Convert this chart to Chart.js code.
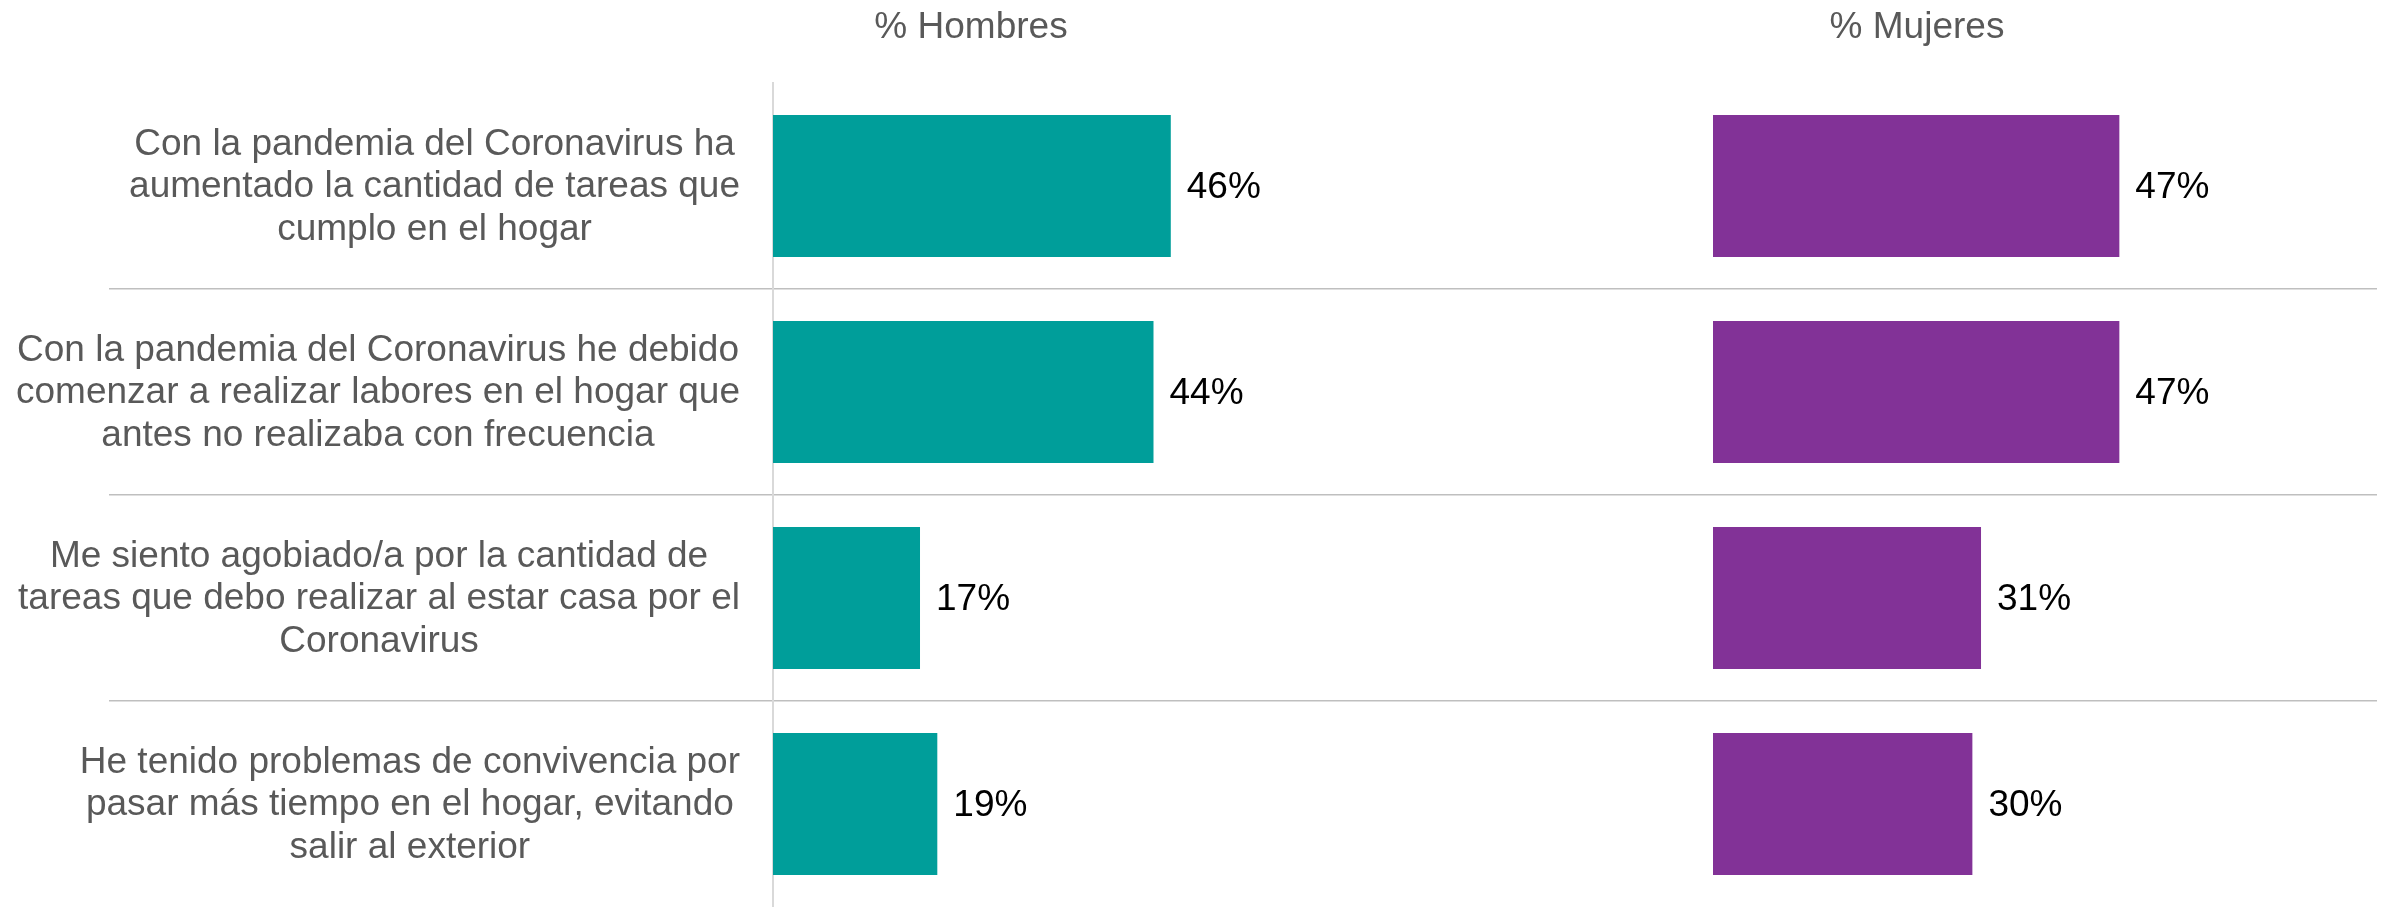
<!DOCTYPE html>
<html><head><meta charset="utf-8">
<script src="https://cdn.jsdelivr.net/npm/chart.js@4.4.0/dist/chart.umd.min.js"></script>
<style>html,body{margin:0;padding:0;background:#fff;overflow:hidden;}</style>
</head><body>
<canvas id="c" width="2385" height="907" style="display:block;width:2385px;height:907px"></canvas>
<script>
// ---- data ----
const categories = [
  ["Con la pandemia del Coronavirus ha", "aumentado la cantidad de tareas que", "cumplo en el hogar"],
  ["Con la pandemia del Coronavirus he debido", "comenzar a realizar labores en el hogar que", "antes no realizaba con frecuencia"],
  ["Me siento agobiado/a por la cantidad de", "tareas que debo realizar al estar casa por el", "Coronavirus"],
  ["He tenido problemas de convivencia por", "pasar más tiempo en el hogar, evitando", "salir al exterior"]
];
const seriesNames = ["% Hombres", "% Mujeres"];
const hombres = [46, 44, 17, 19];
const mujeres = [47, 47, 31, 30];

// ---- style ----
const FONT = '"Liberation Sans", Arial, sans-serif';
const GREY_TEXT = '#595959';
const SEP = '#bfbfbf';
const NONE = 'rgba(0,0,0,0)';

const customDraw = {
  id: 'customDraw',
  afterDatasetsDraw(chart) {
    const ctx = chart.ctx;
    ctx.save();
    // value labels
    ctx.font = '37px ' + FONT;
    ctx.fillStyle = '#000000';
    ctx.textBaseline = 'middle';
    ctx.textAlign = 'left';
    chart.data.datasets.forEach((ds, i) => {
      chart.getDatasetMeta(i).data.forEach((bar, j) => {
        ctx.fillText(ds.data[j] + '%', bar.x + 16, bar.y + 2);
      });
    });
    // category labels (right-aligned block, centred lines)
    const y = chart.scales.y;
    ctx.fillStyle = GREY_TEXT;
    ctx.textAlign = 'center';
    const lh = 42.5;
    categories.forEach((lines, j) => {
      const cy = y.getPixelForValue(j);
      let widest = 0;
      lines.forEach(l => { widest = Math.max(widest, ctx.measureText(l).width); });
      const cx = y.right - 33 - widest / 2;
      lines.forEach((l, k) => {
        ctx.fillText(l, cx, cy + (k - (lines.length - 1) / 2) * lh + 1);
      });
    });
    // panel headers
    ctx.fillText(seriesNames[0], chart.scales.x1.left + 198, 28);
    ctx.fillText(seriesNames[1], chart.scales.x2.left + 204, 28);
    ctx.restore();
  }
};

const sepColor = c => (c.index === undefined || c.index === 0 || c.index >= categories.length) ? NONE : SEP;

new Chart(document.getElementById('c'), {
  type: 'bar',
  data: {
    labels: categories,
    datasets: [
      { label: seriesNames[0], data: hombres, xAxisID: 'x1', backgroundColor: '#009E9A' },
      { label: seriesNames[1], data: mujeres, xAxisID: 'x2', backgroundColor: '#823297' }
    ]
  },
  options: {
    indexAxis: 'y',
    responsive: false,
    animation: false,
    devicePixelRatio: 1,
    layout: { padding: { top: 83, bottom: -4, left: 0, right: 8 } },
    datasets: { bar: { grouped: false, categoryPercentage: 1, barPercentage: 0.69 } },
    plugins: { legend: { display: false }, tooltip: { enabled: false }, title: { display: false } },
    scales: {
      y: {
        type: 'category',
        offset: true,
        afterFit(s) { s.width = 773; },
        ticks: { display: false },
        border: { display: true, color: '#d9d9d9', width: 2 },
        grid: {
          offset: true,
          drawTicks: true,
          tickLength: 664,
          lineWidth: 1.5,
          color: sepColor,
          tickColor: sepColor
        }
      },
      x1: { type: 'linear', position: 'bottom', stack: 'panels', stackWeight: 940, min: 0, max: 108.7, display: false },
      x2: { type: 'linear', position: 'bottom', stack: 'panels', stackWeight: 664, min: 0, max: 76.8, display: false }
    }
  },
  plugins: [customDraw]
});
</script>
</body></html>
